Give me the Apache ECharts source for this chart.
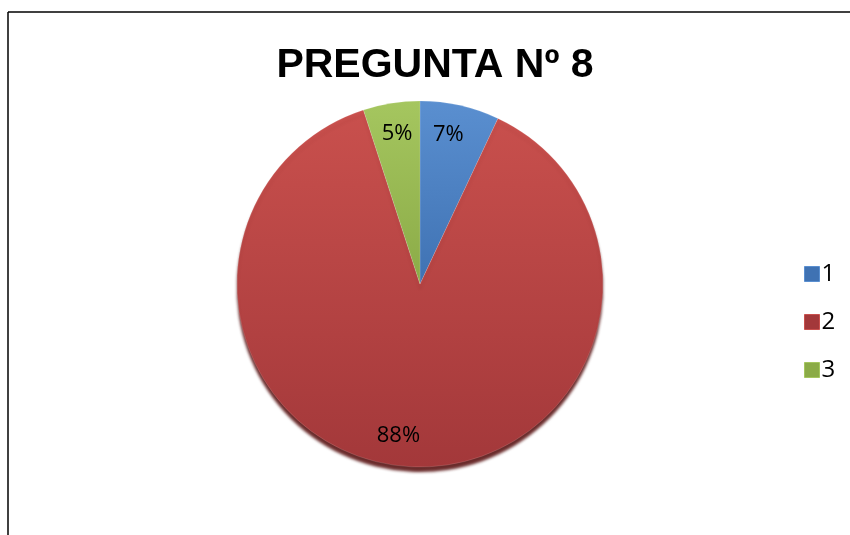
<!DOCTYPE html>
<html>
<head>
<meta charset="utf-8">
<script src="https://cdn.jsdelivr.net/npm/echarts@6/dist/echarts.min.js"></script>
<style>
  html, body { margin: 0; padding: 0; background: #fff; }
  #main { width: 850px; height: 535px; }
</style>
</head>
<body>
<div id="main"></div>
<script>
var categories = ['1', '2', '3'];
var values = [7, 88, 5];
var colors = [
    ['#5a8fd0', '#3f72b3'],
    ['#c9504d', '#a3383a'],
    ['#a5c65f', '#8bab47']
];
// small nudges so the labels sit where the original puts them
var labelPads = [[4, 10, 0, 0], [0, 24, 6, 0], [6, 0, 0, 2]];

var chart = echarts.init(document.getElementById('main'));

function grad(c) {
    return new echarts.graphic.LinearGradient(0, 0, 0, 1, [
        {offset: 0, color: c[0]},
        {offset: 1, color: c[1]}
    ]);
}

var pieData = categories.map(function (name, i) {
    var item = {name: name, value: values[i], itemStyle: {color: grad(colors[i])}};
    if (i === 1) {
        item.itemStyle.shadowColor = 'rgba(90,20,20,0.9)';
        item.itemStyle.shadowOffsetY = 5;
        item.itemStyle.shadowBlur = 3;
    }
    return item;
});

var labelData = categories.map(function (name, i) {
    return {name: name, value: values[i], label: {padding: labelPads[i]}};
});

var option = {
    animation: false,
    backgroundColor: '#fff',
    title: {
        text: 'PREGUNTA Nº 8',
        left: 430,
        top: 40,
        textAlign: 'center',
        textStyle: {
            fontFamily: 'Liberation Sans Narrow, Liberation Sans, sans-serif',
            fontSize: 41,
            fontWeight: 'bold',
            color: '#000'
        }
    },
    legend: {
        orient: 'vertical',
        left: 799,
        top: 257,
        itemWidth: 15,
        itemHeight: 15,
        itemGap: 24,
        icon: 'rect',
        data: categories.map(function (name, i) {
            return {name: name, itemStyle: {color: colors[i][1], borderColor: colors[i][0], borderWidth: 1}};
        }),
        textStyle: {
            fontFamily: 'Open Sans, sans-serif',
            fontSize: 24,
            lineHeight: 20,
            height: 20,
            color: '#000',
            padding: [0, 0, 0, -3]
        }
    },
    graphic: [
        {type: 'line', shape: {x1: 8, y1: 12, x2: 850, y2: 12}, style: {stroke: '#000', lineWidth: 1.5}},
        {type: 'line', shape: {x1: 8, y1: 12, x2: 8, y2: 535}, style: {stroke: '#000', lineWidth: 1.5}}
    ],
    series: [
        {
            type: 'pie',
            center: [420, 284],
            radius: 183,
            startAngle: 90,
            clockwise: true,
            silent: true,
            label: {show: false},
            labelLine: {show: false},
            itemStyle: {borderColor: 'rgba(255,255,255,0.25)', borderWidth: 0.5},
            data: pieData
        },
        {
            type: 'pie',
            center: [420, 284],
            radius: [116, 183],
            startAngle: 90,
            clockwise: true,
            silent: true,
            legendHoverLink: false,
            itemStyle: {color: 'rgba(0,0,0,0)'},
            label: {
                show: true,
                position: 'inside',
                formatter: '{c}%',
                fontFamily: 'Open Sans, sans-serif',
                fontSize: 22,
                color: '#000'
            },
            labelLine: {show: false},
            data: labelData
        }
    ]
};

chart.setOption(option);
</script>
</body>
</html>
